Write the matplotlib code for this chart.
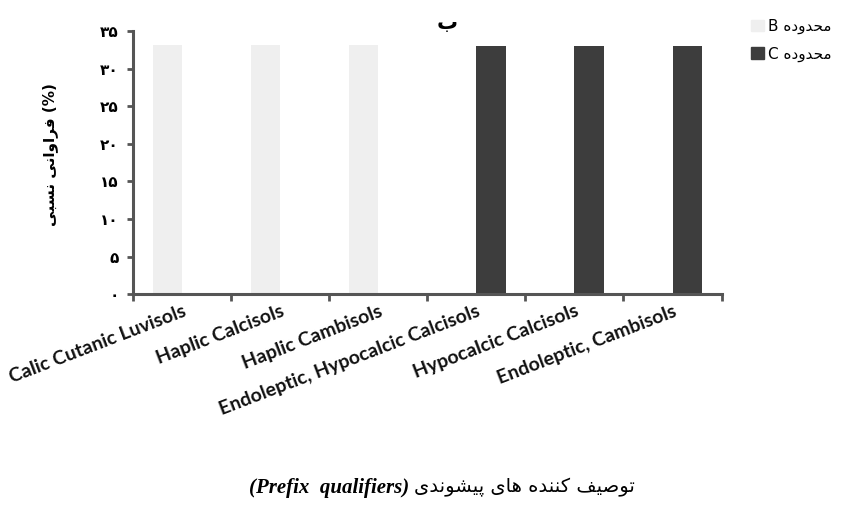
import numpy as np
import matplotlib
matplotlib.use("Agg")
import matplotlib.pyplot as plt
from matplotlib.patches import Patch

# -----------------------
# Data
# -----------------------
soils = ['Calic Cutanic Luvisols', 'Haplic Calcisols', 'Haplic Cambisols',
         'Endoleptic, Hypocalcic Calcisols', 'Hypocalcic Calcisols',
         'Endoleptic, Cambisols']
zone_b = [33.2, 33.2, 33.2, 0, 0, 0]
zone_c = [0, 0, 0, 33.0, 33.0, 33.0]
y_ticks = [0, 5, 10, 15, 20, 25, 30, 35]

# -----------------------
# Persian text helpers (matplotlib does no shaping / RTL)
# -----------------------
# letter: (isolated, final, initial, medial)
FORMS = {
    'ب': (0xFE8F, 0xFE90, 0xFE91, 0xFE92),
    'پ': (0xFB56, 0xFB57, 0xFB58, 0xFB59),
    'ت': (0xFE95, 0xFE96, 0xFE97, 0xFE98),
    'ح': (0xFEA1, 0xFEA2, 0xFEA3, 0xFEA4),
    'س': (0xFEB1, 0xFEB2, 0xFEB3, 0xFEB4),
    'ش': (0xFEB5, 0xFEB6, 0xFEB7, 0xFEB8),
    'ص': (0xFEB9, 0xFEBA, 0xFEBB, 0xFEBC),
    'ف': (0xFED1, 0xFED2, 0xFED3, 0xFED4),
    'ک': (0xFB8E, 0xFB8F, 0xFB90, 0xFB91),
    'م': (0xFEE1, 0xFEE2, 0xFEE3, 0xFEE4),
    'ن': (0xFEE5, 0xFEE6, 0xFEE7, 0xFEE8),
    'ه': (0xFEE9, 0xFEEA, 0xFEEB, 0xFEEC),
    'ی': (0xFBFC, 0xFBFD, 0xFBFE, 0xFBFF),
    'ا': (0xFE8D, 0xFE8E, None, None),
    'د': (0xFEA9, 0xFEAA, None, None),
    'ر': (0xFEAD, 0xFEAE, None, None),
    'و': (0xFEED, 0xFEEE, None, None),
}

def joins_left(ch):
    return ch in FORMS and FORMS[ch][2] is not None

def fa(text):
    """Shape Persian letters and return them in visual (left-to-right) order."""
    out = []
    for i, ch in enumerate(text):
        if ch not in FORMS:
            out.append(ch)
            continue
        prev_j = i > 0 and joins_left(text[i - 1])
        next_j = i < len(text) - 1 and text[i + 1] in FORMS and joins_left(ch)
        iso, fin, ini, med = FORMS[ch]
        if prev_j and next_j:
            cp = med
        elif prev_j:
            cp = fin
        elif next_j:
            cp = ini
        else:
            cp = iso
        out.append(chr(cp))
    return ''.join(out)[::-1]

def fa_digits(n):
    return ''.join(chr(0x06F0 + int(d)) for d in str(n))

# -----------------------
# Plot
# -----------------------
plt.rcParams['font.family'] = ['DejaVu Sans']

fig = plt.figure(figsize=(8.41, 5.08), dpi=100)
ax = fig.add_axes([0.158, 0.421, 0.700, 0.518])

x = np.arange(len(soils))
w = 0.30
ax.bar(x - w / 2, zone_b, width=w, color='#efefef', label='B')
ax.bar(x + w / 2, zone_c, width=w, color='#3d3d3d', label='C')

ax.set_xlim(-0.5, len(soils) - 0.5)
ax.set_ylim(0, 35)

ax.set_yticks(y_ticks)
ax.set_yticklabels([fa_digits(v) for v in y_ticks], fontsize=11, fontweight='bold')
ax.set_xticks(x)
ax.set_xticklabels(soils, rotation=21, ha='right', rotation_mode='anchor',
                   fontsize=14, fontweight='bold', color='#111111', family='Lato')
ax.tick_params(axis='x', which='major', length=0, pad=6)
ax.set_xticks(np.arange(-0.5, len(soils), 1.0), minor=True)
ax.tick_params(axis='x', which='minor', length=5, width=2, color='#555555')
ax.tick_params(axis='y', length=4, width=2, color='#555555', pad=6)

for side in ['top', 'right']:
    ax.spines[side].set_visible(False)
for side in ['left', 'bottom']:
    ax.spines[side].set_linewidth(2.2)
    ax.spines[side].set_color('#555555')

ax.set_ylabel(fa('فراوانی نسبی') + ' (%)', fontsize=11, fontweight='bold')
ax.yaxis.set_label_coords(-0.128, 0.53)

fig.text(0.532, 0.955, fa('ب'), ha='center', va='center', fontsize=15, fontweight='bold')

handles = [Patch(color='#efefef'), Patch(color='#3d3d3d')]
labels = ['B ' + fa('محدوده'), 'C ' + fa('محدوده')]
fig.legend(handles, labels, loc='upper left', bbox_to_anchor=(0.877, 0.99),
           frameon=False, fontsize=11, handlelength=0.8, handleheight=0.8,
           handletextpad=0.3, labelspacing=0.8)

fig.text(0.487, 0.04, '(Prefix  qualifiers)', ha='right', va='center',
         fontsize=15, fontstyle='italic', fontweight='bold', family='Liberation Serif')
fig.text(0.492, 0.04, fa('توصیف کننده های پیشوندی'), ha='left', va='center',
         fontsize=14)

fig.savefig('out.png', dpi=100)
